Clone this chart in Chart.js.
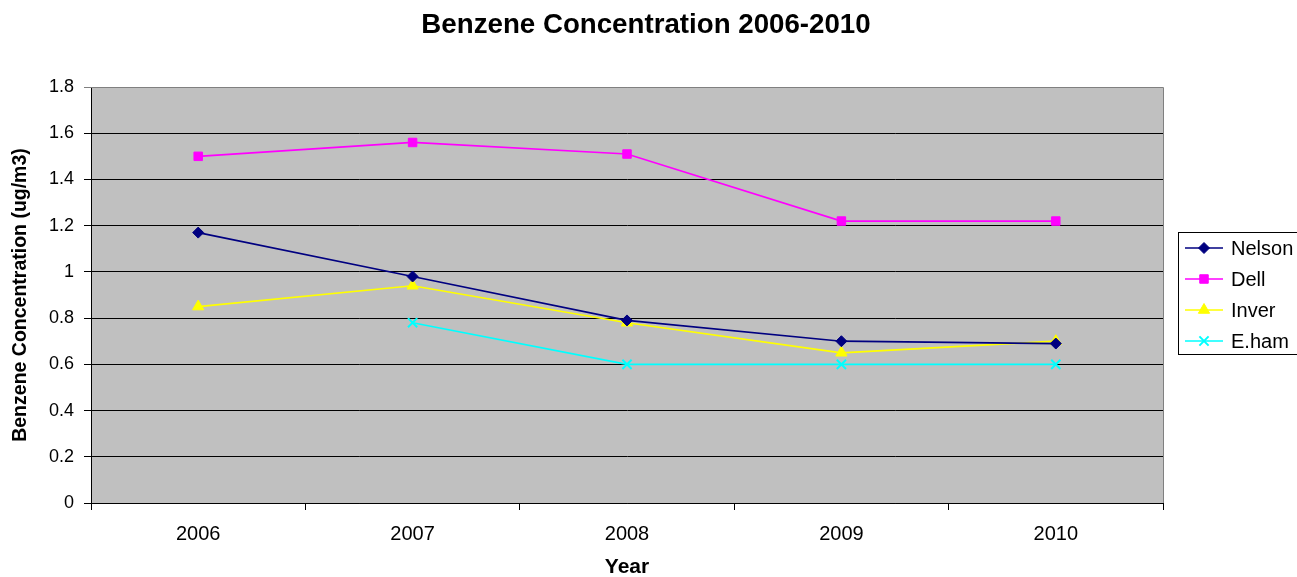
<!DOCTYPE html>
<html>
<head>
<meta charset="utf-8">
<script src="https://cdn.jsdelivr.net/npm/chart.js@4"></script>
<style>
html,body{margin:0;padding:0;background:#fff;}
#wrap{width:1297px;height:577px;}
</style>
</head>
<body>
<div id="wrap"><canvas id="c" width="1297" height="577"></canvas></div>
<script>
const categories = ['2006', '2007', '2008', '2009', '2010'];
const nelson = [1.17, 0.98, 0.79, 0.70, 0.69];
const dell   = [1.50, 1.56, 1.51, 1.22, 1.22];
const inver  = [0.85, 0.94, 0.78, 0.65, 0.70];
const eham   = [null, 0.78, 0.60, 0.60, 0.60];
const yTicks = [0, 0.2, 0.4, 0.6, 0.8, 1, 1.2, 1.4, 1.6, 1.8];
const chartTitle = 'Benzene Concentration 2006-2010';

const FONT = "'Liberation Sans', Arial, sans-serif";

const plotBg = {
  id: 'plotBg',
  beforeDraw(chart) {
    const {ctx, chartArea: a} = chart;
    ctx.save();
    ctx.fillStyle = '#C0C0C0';
    ctx.fillRect(a.left, a.top, a.right - a.left, a.bottom - a.top);
    ctx.restore();
  },
  beforeDatasetsDraw(chart) {
    const {ctx, chartArea: a} = chart;
    ctx.save();
    ctx.strokeStyle = '#808080';
    ctx.lineWidth = 1;
    ctx.beginPath();
    ctx.moveTo(a.left, a.top + 0.5);
    ctx.lineTo(a.right + 0.5, a.top + 0.5);
    ctx.lineTo(a.right + 0.5, a.bottom);
    ctx.stroke();
    ctx.restore();
  },
  afterDraw(chart) {
    const ctx = chart.ctx;
    ctx.save();
    ctx.fillStyle = '#000';
    ctx.font = 'bold 27.7px ' + FONT;
    ctx.textAlign = 'center';
    ctx.textBaseline = 'middle';
    ctx.fillText(chartTitle, 646, 25);
    ctx.restore();
  }
};

const customLegend = {
  id: 'customLegend',
  afterDraw(chart) {
    const ctx = chart.ctx;
    const a = chart.chartArea;
    const x0 = a.right + 15, y0 = 232, w = 1297 - x0 + 5, h = 122;
    ctx.save();
    ctx.fillStyle = '#fff';
    ctx.fillRect(x0, y0, w, h);
    ctx.strokeStyle = '#000';
    ctx.lineWidth = 1;
    ctx.strokeRect(x0 + 0.5, y0 + 0.5, w, h);
    chart.data.datasets.forEach((d, i) => {
      const cy = y0 + 16 + i * 31;
      ctx.strokeStyle = d.borderColor;
      ctx.lineWidth = d.borderWidth;
      ctx.beginPath();
      ctx.moveTo(x0 + 7, cy);
      ctx.lineTo(x0 + 45, cy);
      ctx.stroke();
      ctx.fillStyle = d.pointBackgroundColor;
      ctx.strokeStyle = d.pointBorderColor;
      ctx.lineWidth = d.pointBorderWidth;
      Chart.helpers.drawPoint(ctx, {
        pointStyle: d.pointStyle, radius: d.pointRadius,
        borderWidth: d.pointBorderWidth, rotation: 0
      }, x0 + 26, cy);
      ctx.fillStyle = '#000';
      ctx.font = '20px ' + FONT;
      ctx.textBaseline = 'middle';
      ctx.textAlign = 'left';
      ctx.fillText(d.label, x0 + 53, cy + 1);
    });
    ctx.restore();
  }
};

function ds(label, data, color, style, radius, bw) {
  return {
    label, data,
    borderColor: color, backgroundColor: color,
    pointBackgroundColor: color, pointBorderColor: color,
    pointStyle: style, pointRadius: radius, pointHoverRadius: radius,
    pointBorderWidth: bw, borderWidth: 1.7, tension: 0, spanGaps: false
  };
}

new Chart(document.getElementById('c'), {
  type: 'line',
  data: {
    labels: categories,
    datasets: [
      ds('Nelson', nelson, '#000080', 'rectRot', 5.5, 1),
      ds('Dell', dell, '#FF00FF', 'rect', 6, 1),
      ds('Inver', inver, '#FFFF00', 'triangle', 6.5, 1),
      ds('E.ham', eham, '#00FFFF', 'crossRot', 6.5, 2)
    ]
  },
  options: {
    responsive: false,
    animation: false,
    devicePixelRatio: 1,
    layout: { padding: { left: 0, right: 134, top: 87, bottom: 0 } },
    plugins: {
      legend: { display: false },
      tooltip: { enabled: false },
      title: { display: false }
    },
    scales: {
      x: {
        type: 'category',
        offset: true,
        grid: {
          offset: true,
          drawOnChartArea: false,
          drawTicks: true,
          tickLength: 7,
          color: '#000'
        },
        border: { color: '#000', width: 1 },
        ticks: { color: '#000', font: { family: FONT, size: 20 }, padding: 12, maxRotation: 0 },
        title: {
          display: true, text: 'Year', color: '#000',
          font: { family: FONT, size: 21, weight: 'bold', lineHeight: 1 },
          padding: { top: 14, bottom: -1 }
        },
        afterFit(s) { s.height = 74; }
      },
      y: {
        min: 0, max: 1.8,
        afterBuildTicks(s) { s.ticks = yTicks.map(v => ({ value: v })); },
        grid: {
          color: ctx => (ctx.tick && ctx.tick.value === 1.8) ? '#808080' : '#000',
          tickLength: 7,
          drawTicks: true
        },
        border: { color: '#000', width: 1 },
        ticks: {
          color: '#000', font: { family: FONT, size: 18 }, padding: 10,
          callback: v => String(+Number(v).toFixed(1))
        },
        title: {
          display: true, text: 'Benzene Concentration (ug/m3)', color: '#000',
          font: { family: FONT, size: 19.5, weight: 'bold' },
          padding: { top: 9, bottom: 10 }
        },
        afterFit(s) { s.width = 91; }
      }
    }
  },
  plugins: [plotBg, customLegend]
});
</script>
</body>
</html>
